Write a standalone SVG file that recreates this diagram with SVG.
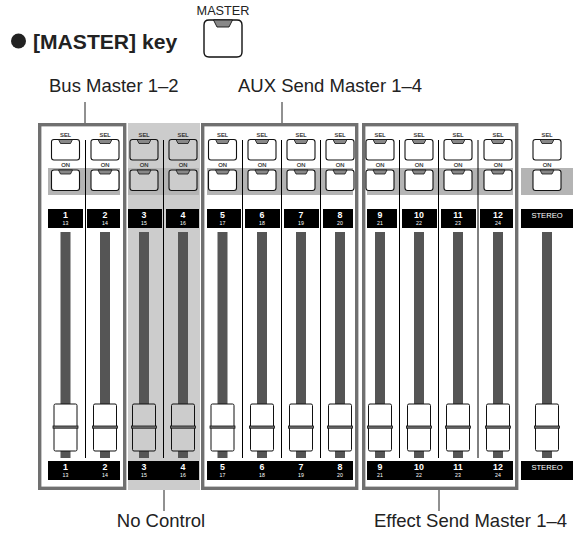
<svg xmlns="http://www.w3.org/2000/svg" xmlns:xlink="http://www.w3.org/1999/xlink" width="573" height="536" viewBox="0 0 573 536">
<style>
text{font-family:"Liberation Sans",Arial,sans-serif}
.t{font-size:18.5px;fill:#222}
.c{text-anchor:middle}
.cap{font-size:5.8px;fill:#222;text-anchor:middle;stroke:#222;stroke-width:.15}
.n{font-size:8.8px;font-weight:bold;fill:#fff;text-anchor:middle}
.s{font-size:5.2px;fill:#fff;text-anchor:middle}
.st{font-size:7.6px;fill:#fff;text-anchor:middle}
.box{fill:none;stroke:#707070;stroke-width:3.4}
.band{fill:#b4b4b4}
.blk{fill:#000}
.div{stroke:#000;stroke-width:1;fill:none}
.lead{stroke:#222;stroke-width:1;fill:none}
.w{fill:#fff}
.g{fill:#ccc}
</style>
<defs>
<g id="btn">
<path d="M-11.5 0H11.5Q14 0 14 2.5V18Q14 20.5 11.5 20.500H-11.5Q-14 20.5 -14 18V2.5Q-14 0 -11.5 0Z" stroke="#111" stroke-width="1.1"/>
<path d="M-7 0H7L5 4H-5Z" fill="#888" stroke="#111" stroke-width=".8"/>
</g>
<g id="fad">
<rect x="-5" y="232" width="10" height="226" fill="#555"/>
<rect x="-11.5" y="404" width="23" height="47" rx="1.5" stroke="#111" stroke-width="1"/>
<rect x="-12.5" y="426" width="25" height="2.2" fill="#777" stroke="#111" stroke-width=".8"/>
</g>
</defs>
<rect x="128" y="123" width="72" height="367" class="g"/>
<rect x="48" y="168" width="72" height="27" class="band"/>
<rect x="128" y="168" width="71" height="27" class="band"/>
<rect x="207" y="168" width="146" height="27" class="band"/>
<rect x="367" y="168" width="146" height="27" class="band"/>
<rect x="521" y="168" width="52" height="27" class="band"/>
<g id="frames">
<rect x="39.7" y="124.7" width="85" height="363.6" class="box"/>
<rect x="202.7" y="124.7" width="154" height="363.6" class="box"/>
<rect x="363.7" y="124.7" width="153" height="363.6" class="box"/>
</g>
<g id="dividers">
<path class="div" d="M85.5 140V458M163.5 140V458M242.5 140V458M281.5 140V458M320.5 140V458M399.5 140V458M438.5 140V458M478 140V458"/>
</g>
<g id="connectors">
<path class="lead" d="M85 102V123M282 102V123M164 490V511M439 490V511"/>
</g>
<g id="bullet"><circle cx="18.5" cy="41" r="7.5" fill="#222"/><text x="33" y="49" font-size="21.1" font-weight="bold" fill="#222">[MASTER] key</text></g>
<g id="master-key"><text x="223" y="15" class="c" font-size="12.7" fill="#222">MASTER</text>
<path d="M209 20H237Q242 20 242 25V52Q242 57 237 57H209Q204 57 204 52V25Q204 20 209 20Z" fill="#fff" stroke="#111" stroke-width="1.4"/>
<path d="M213.500 20H232.500L229 27H217Z" fill="#888" stroke="#111" stroke-width=".9"/></g>
<g id="label-bus"><text x="49" y="92" class="t">Bus Master 1–2</text></g>
<g id="label-aux"><text x="238" y="92" class="t">AUX Send Master 1–4</text></g>
<g id="label-none"><text x="161" y="527" class="t c">No Control</text></g>
<g id="label-fx"><text x="374" y="527" class="t">Effect Send Master 1–4</text></g>
<g id="ch1" class="w"><use href="#fad" x="65.5"/><use href="#btn" x="65.5" y="139.500"/><use href="#btn" x="65.500" y="170"/><text x="65.500" y="137.300" class="cap">SEL</text><text x="65.500" y="166.500" class="cap">ON</text><rect x="48" y="209" width="35" height="19" class="blk"/><text x="65.500" y="218" class="n">1</text><text x="65.500" y="225" class="s">13</text></g>
<g id="ch2" class="w"><use href="#fad" x="105"/><use href="#btn" x="105" y="139.500"/><use href="#btn" x="105" y="170"/><text x="105" y="137.300" class="cap">SEL</text><text x="105" y="166.500" class="cap">ON</text><rect x="87" y="209" width="33" height="19" class="blk"/><text x="105" y="218" class="n">2</text><text x="105" y="225" class="s">14</text></g>
<g id="ch3" class="g"><use href="#fad" x="144"/><use href="#btn" x="144" y="139.500"/><use href="#btn" x="144" y="170"/><text x="144" y="137.300" class="cap">SEL</text><text x="144" y="166.500" class="cap">ON</text><rect x="128" y="209" width="34" height="19" class="blk"/><text x="144" y="218" class="n">3</text><text x="144" y="225" class="s">15</text></g>
<g id="ch4" class="g"><use href="#fad" x="183"/><use href="#btn" x="183" y="139.500"/><use href="#btn" x="183" y="170"/><text x="183" y="137.300" class="cap">SEL</text><text x="183" y="166.500" class="cap">ON</text><rect x="166" y="209" width="33" height="19" class="blk"/><text x="183" y="218" class="n">4</text><text x="183" y="225" class="s">16</text></g>
<g id="ch5" class="w"><use href="#fad" x="222.500"/><use href="#btn" x="222.500" y="139.500"/><use href="#btn" x="222.500" y="170"/><text x="222.500" y="137.300" class="cap">SEL</text><text x="222.500" y="166.500" class="cap">ON</text><rect x="207" y="209" width="34" height="19" class="blk"/><text x="222.500" y="218" class="n">5</text><text x="222.500" y="225" class="s">17</text></g>
<g id="ch6" class="w"><use href="#fad" x="262"/><use href="#btn" x="262" y="139.500"/><use href="#btn" x="262" y="170"/><text x="262" y="137.300" class="cap">SEL</text><text x="262" y="166.500" class="cap">ON</text><rect x="245" y="209" width="35" height="19" class="blk"/><text x="262" y="218" class="n">6</text><text x="262" y="225" class="s">18</text></g>
<g id="ch7" class="w"><use href="#fad" x="301"/><use href="#btn" x="301" y="139.500"/><use href="#btn" x="301" y="170"/><text x="301" y="137.300" class="cap">SEL</text><text x="301" y="166.500" class="cap">ON</text><rect x="284" y="209" width="35" height="19" class="blk"/><text x="301" y="218" class="n">7</text><text x="301" y="225" class="s">19</text></g>
<g id="ch8" class="w"><use href="#fad" x="340"/><use href="#btn" x="340" y="139.500"/><use href="#btn" x="340" y="170"/><text x="340" y="137.300" class="cap">SEL</text><text x="340" y="166.500" class="cap">ON</text><rect x="323" y="209" width="30" height="19" class="blk"/><text x="340" y="218" class="n">8</text><text x="340" y="225" class="s">20</text></g>
<g id="ch9" class="w"><use href="#fad" x="380"/><use href="#btn" x="380" y="139.500"/><use href="#btn" x="380" y="170"/><text x="380" y="137.300" class="cap">SEL</text><text x="380" y="166.500" class="cap">ON</text><rect x="367" y="209" width="30" height="19" class="blk"/><text x="380" y="218" class="n">9</text><text x="380" y="225" class="s">21</text></g>
<g id="ch10" class="w"><use href="#fad" x="419"/><use href="#btn" x="419" y="139.500"/><use href="#btn" x="419" y="170"/><text x="419" y="137.300" class="cap">SEL</text><text x="419" y="166.500" class="cap">ON</text><rect x="402" y="209" width="35" height="19" class="blk"/><text x="419" y="218" class="n">10</text><text x="419" y="225" class="s">22</text></g>
<g id="ch11" class="w"><use href="#fad" x="458"/><use href="#btn" x="458" y="139.500"/><use href="#btn" x="458" y="170"/><text x="458" y="137.300" class="cap">SEL</text><text x="458" y="166.500" class="cap">ON</text><rect x="441" y="209" width="35" height="19" class="blk"/><text x="458" y="218" class="n">11</text><text x="458" y="225" class="s">23</text></g>
<g id="ch12" class="w"><use href="#fad" x="498"/><use href="#btn" x="498" y="139.500"/><use href="#btn" x="498" y="170"/><text x="498" y="137.300" class="cap">SEL</text><text x="498" y="166.500" class="cap">ON</text><rect x="480" y="209" width="33" height="19" class="blk"/><text x="498" y="218" class="n">12</text><text x="498" y="225" class="s">24</text></g>
<g id="stereo" class="w"><use href="#fad" x="547"/><use href="#btn" x="547" y="139.500"/><use href="#btn" x="547" y="170"/><text x="547" y="137.300" class="cap">SEL</text><text x="547" y="166.500" class="cap">ON</text><rect x="521" y="209" width="52" height="19" class="blk"/><text x="547" y="217.700" class="st">STEREO</text></g>
<g id="bottom-labels">
<rect x="48" y="461" width="72" height="19" class="blk"/><rect x="128" y="461" width="71" height="19" class="blk"/><rect x="207" y="461" width="146" height="19" class="blk"/><rect x="367" y="461" width="146" height="19" class="blk"/><rect x="521" y="461" width="52" height="19" class="blk"/>
<text x="65.500" y="470" class="n">1</text><text x="65.500" y="476.700" class="s">13</text>
<text x="105" y="470" class="n">2</text><text x="105" y="476.700" class="s">14</text>
<text x="144" y="470" class="n">3</text><text x="144" y="476.700" class="s">15</text>
<text x="183" y="470" class="n">4</text><text x="183" y="476.700" class="s">16</text>
<text x="222.500" y="470" class="n">5</text><text x="222.500" y="476.700" class="s">17</text>
<text x="262" y="470" class="n">6</text><text x="262" y="476.700" class="s">18</text>
<text x="301" y="470" class="n">7</text><text x="301" y="476.700" class="s">19</text>
<text x="340" y="470" class="n">8</text><text x="340" y="476.700" class="s">20</text>
<text x="380" y="470" class="n">9</text><text x="380" y="476.700" class="s">21</text>
<text x="419" y="470" class="n">10</text><text x="419" y="476.700" class="s">22</text>
<text x="458" y="470" class="n">11</text><text x="458" y="476.700" class="s">23</text>
<text x="498" y="470" class="n">12</text><text x="498" y="476.700" class="s">24</text>
<text x="547" y="469.700" class="st">STEREO</text>
</g>
</svg>
